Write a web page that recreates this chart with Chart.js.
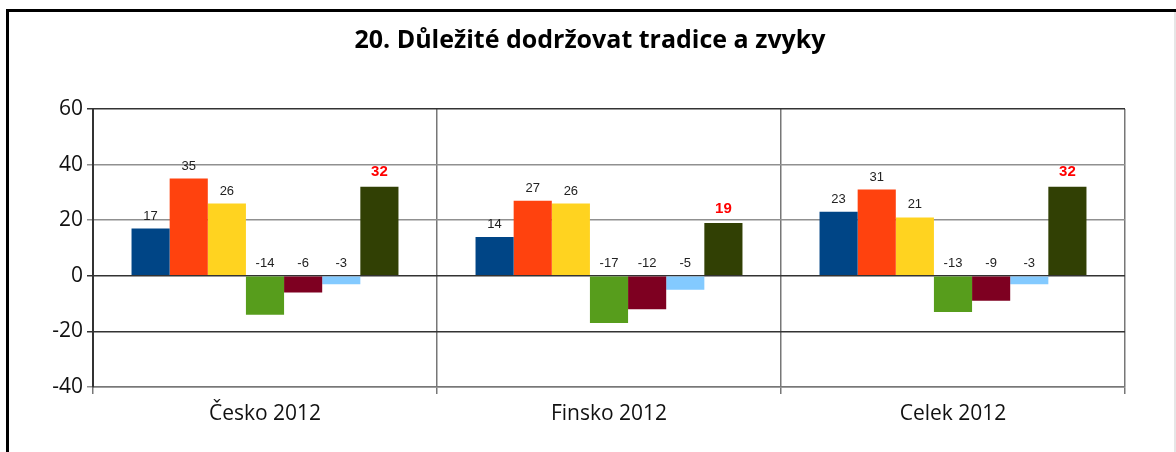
<!DOCTYPE html>
<html lang="cs">
<head>
<meta charset="utf-8" />
<title>20. Důležité dodržovat tradice a zvyky</title>
<script src="https://cdn.jsdelivr.net/npm/chart.js@4"></script>
<style>
  html, body { margin: 0; padding: 0; background: #fff; }
  #wrap { width: 1176px; height: 452px; position: relative; }
</style>
</head>
<body>
<div id="wrap"><canvas id="myChart" width="1176" height="452"></canvas></div>
<script>
// data
var chartTitle = "20. Důležité dodržovat tradice a zvyky";
var categories = ["Česko 2012", "Finsko 2012", "Celek 2012"];
var series1 = [17, 14, 23];
var series2 = [35, 27, 31];
var series3 = [26, 26, 21];
var series4 = [-14, -17, -13];
var series5 = [-6, -12, -9];
var series6 = [-3, -5, -3];
var series7 = [32, 19, 32];
var yTicks = [-40, -20, 0, 20, 40, 60];

var colors = ["#004586", "#ff420e", "#ffd320", "#579d1c", "#7e0021", "#83caff", "#314004"];
var allSeries = [series1, series2, series3, series4, series5, series6, series7];

var datasets = allSeries.map(function (s, i) {
    return {
        label: "s" + (i + 1),
        data: s,
        backgroundColor: colors[i],
        borderWidth: 0,
        barPercentage: 1,
        categoryPercentage: 0.776
    };
});

// frame, title and value labels
var decor = {
    id: "decor",
    beforeDraw: function (chart) {
        var c = chart.ctx;
        c.save();
        c.fillStyle = "#fff";
        c.fillRect(0, 0, chart.width, chart.height);
        c.fillStyle = "#000";
        c.fillRect(6, 9, 3, chart.height);
        c.fillRect(6, 9, chart.width - 6, 3);
        c.fillStyle = "#e6e6e6";
        c.fillRect(1174, 12, 2, chart.height);
        c.fillStyle = "#000";
        c.font = "bold 25px 'Open Sans'";
        c.textAlign = "center";
        c.textBaseline = "middle";
        c.fillText(chartTitle, 590, 41);
        c.restore();
    },
    afterDatasetsDraw: function (chart) {
        var c = chart.ctx;
        var y = chart.scales.y;
        var zero = y.getPixelForValue(0);
        c.save();
        c.textAlign = "center";
        c.textBaseline = "bottom";
        chart.data.datasets.forEach(function (ds, di) {
            var meta = chart.getDatasetMeta(di);
            meta.data.forEach(function (bar, i) {
                var v = ds.data[i];
                var top = v >= 0 ? bar.y : zero;
                if (di === 6) {
                    c.font = "bold 15px 'Liberation Sans'";
                    c.fillStyle = "#ff0000";
                    c.fillText(v, bar.x, top - 7);
                } else {
                    c.font = "13px 'Liberation Sans'";
                    c.fillStyle = "#222";
                    c.fillText(v, bar.x, top - 6);
                }
            });
        });
        c.restore();
    }
};

var ctx = document.getElementById("myChart").getContext("2d");
var myChart = new Chart(ctx, {
    type: "bar",
    data: { labels: categories, datasets: datasets },
    options: {
        responsive: false,
        animation: false,
        layout: { padding: { left: 0, top: 109, right: 51, bottom: 0 } },
        plugins: {
            legend: { display: false },
            title: { display: false },
            tooltip: { enabled: false }
        },
        scales: {
            x: {
                afterFit: function (s) { s.height = 65; },
                grid: {
                    offset: true,
                    color: "#777",
                    lineWidth: 1.5,
                    tickLength: 7
                },
                border: { color: "#777", width: 1.5 },
                ticks: {
                    color: "#111",
                    font: { family: "'Open Sans'", size: 21 },
                    padding: 7
                }
            },
            y: {
                min: -40,
                max: 60,
                afterFit: function (s) { s.width = 93; },
                afterBuildTicks: function (s) {
                    s.ticks = yTicks.map(function (v) { return { value: v }; });
                },
                grid: {
                    color: function (c) {
                        var v = c.tick ? c.tick.value : null;
                        if (v === 0 || v === -20 || v === 60) return "#333";
                        return "#909090";
                    },
                    lineWidth: 1.5,
                    tickLength: 6
                },
                border: { color: "#333", width: 2 },
                ticks: {
                    color: "#111",
                    font: { family: "'Open Sans'", size: 21 },
                    padding: 4
                }
            }
        }
    },
    plugins: [decor]
});
</script>
</body>
</html>
